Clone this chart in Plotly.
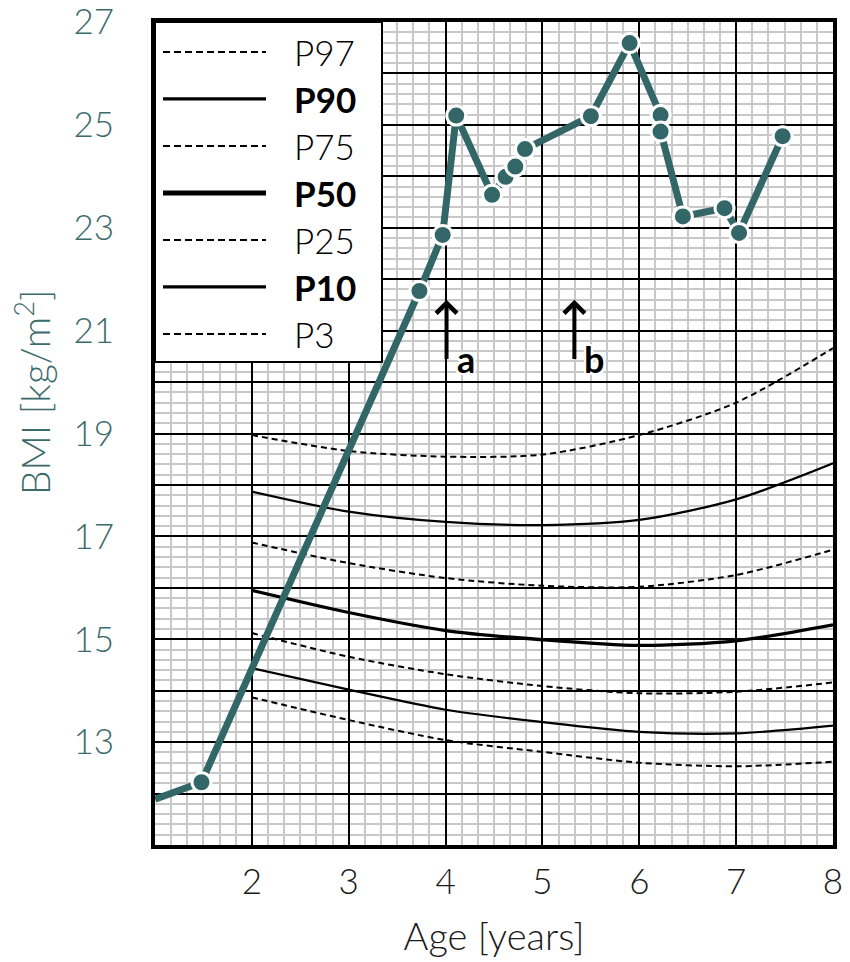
import plotly.graph_objects as go

# ---------------- data ----------------
age_obs = [1.0, 1.48, 3.73, 3.97, 4.11, 4.48, 4.62, 4.72, 4.82, 5.50, 5.90, 6.22, 6.22, 6.45, 6.88, 7.03, 7.48]
bmi_obs = [11.89, 12.22, 21.77, 22.86, 25.18, 23.64, 23.99, 24.19, 24.53, 25.17, 26.59, 25.19, 24.87, 23.22, 23.38, 22.90, 24.78]

pct_age = [2, 3, 4, 5, 6, 7, 8]
p97 = [18.97, 18.66, 18.55, 18.59, 18.97, 19.60, 20.66]
p90 = [17.87, 17.48, 17.28, 17.22, 17.32, 17.72, 18.42]
p75 = [16.88, 16.48, 16.19, 16.04, 16.02, 16.25, 16.74]
p50 = [15.95, 15.52, 15.17, 14.99, 14.88, 14.97, 15.28]
p25 = [15.12, 14.66, 14.32, 14.09, 13.95, 13.98, 14.16]
p10 = [14.44, 14.02, 13.63, 13.39, 13.20, 13.17, 13.32]
p3 = [13.87, 13.43, 13.04, 12.81, 12.60, 12.53, 12.62]

pct_names = ["P97", "P90", "P75", "P50", "P25", "P10", "P3"]
pct_values = [p97, p90, p75, p50, p25, p10, p3]

x_tick_vals = [1, 2, 3, 4, 5, 6, 7, 8]
x_tick_text = ["", "2", "3", "4", "5", "6", "7", "8"]
y_tick_vals = list(range(11, 28))
y_tick_text = [str(v) if (v % 2 == 1 and v >= 13) else "" for v in y_tick_vals]

event_labels = ["a", "b"]
event_ages = [4.01, 5.33]

# ---------------- styles ----------------
TEAL = "#336666"
FONT = "Lato"
W = 300
styles = {
    "P97": dict(dash="6px,4px", width=2, lw=2, bold=False),
    "P90": dict(dash="solid", width=2.2, lw=3.3, bold=True),
    "P75": dict(dash="6px,4px", width=2, lw=2, bold=False),
    "P50": dict(dash="solid", width=3.3, lw=5, bold=True),
    "P25": dict(dash="6px,4px", width=2, lw=2, bold=False),
    "P10": dict(dash="solid", width=2.2, lw=3.3, bold=True),
    "P3": dict(dash="6px,4px", width=2, lw=2, bold=False),
}

fig = go.Figure()

for name, vals in zip(pct_names, pct_values):
    st = styles[name]
    fig.add_trace(go.Scatter(
        x=pct_age, y=vals, mode="lines", name=name,
        line=dict(color="black", width=st["width"], dash=st["dash"], shape="spline", smoothing=0.8),
        showlegend=False, hoverinfo="skip"))

# observed BMI line
fig.add_trace(go.Scatter(
    x=age_obs, y=bmi_obs, mode="lines",
    line=dict(color=TEAL, width=7), showlegend=False))
fig.add_trace(go.Scatter(
    x=age_obs[1:], y=bmi_obs[1:], mode="markers",
    marker=dict(color=TEAL, size=19, line=dict(color="white", width=3)),
    showlegend=False))

# ---------------- manual legend ----------------
shapes = []
annotations = []
lx0, lx1 = 0.0, 0.3348
ly0, ly1 = 0.5869, 1.0
shapes.append(dict(type="rect", xref="paper", yref="paper", x0=lx0, x1=lx1, y0=ly0, y1=ly1,
                   fillcolor="white", line=dict(color="black", width=2), layer="above"))
row_top = 0.9636
row_step = 0.0571
for i, name in enumerate(pct_names):
    st = styles[name]
    yy = row_top - i * row_step
    shapes.append(dict(type="line", xref="paper", yref="paper", x0=0.0118, x1=0.1637, y0=yy, y1=yy,
                       line=dict(color="black", width=st["lw"], dash=("7px,4px" if st["dash"] != "solid" else "solid")),
                       layer="above"))
    txt = f"<b>{name}</b>" if st["bold"] else name
    annotations.append(dict(xref="paper", yref="paper", x=0.2021, y=yy, text=txt, showarrow=False,
                            xanchor="left", yanchor="middle",
                            font=dict(family=FONT, size=35, color="black", weight=(700 if st["bold"] else W))))

# ---------------- event arrows ----------------
halo = "2px 2px 0 white, -2px -2px 0 white, 2px -2px 0 white, -2px 2px 0 white, 0 2px 0 white, 0 -2px 0 white, 2px 0 0 white, -2px 0 0 white"
for lab, ag in zip(event_labels, event_ages):
    annotations.append(dict(xref="x", yref="y", x=ag, y=21.6, axref="x", ayref="y", ax=ag, ay=20.37,
                            text=" ", showarrow=True, arrowhead=4, arrowsize=1, arrowwidth=4,
                            arrowcolor="black", standoff=0, startstandoff=0,
                            font=dict(size=4)))
    annotations.append(dict(xref="x", yref="y", x=ag + 0.2, y=20.45, text=f"<b>{lab}</b>", showarrow=False,
                            xanchor="center", yanchor="middle",
                            font=dict(family=FONT, size=36, color="black", shadow=halo)))

# y-axis title (placed as in the reference, above the plot centre)
annotations.append(dict(xref="paper", yref="paper", x=-0.1814, y=0.5504, text="BMI [kg/m<sup>2</sup>]",
                        textangle=-90, showarrow=False, xanchor="center", yanchor="middle",
                        font=dict(family=FONT, size=39, color="#3b6b6b", weight=W)))

fig.update_layout(
    width=850, height=962,
    margin=dict(l=155, r=17, t=22, b=117, autoexpand=False),
    paper_bgcolor="white", plot_bgcolor="white",
    font=dict(family=FONT, size=33, weight=W),
    shapes=shapes, annotations=annotations,
    xaxis=dict(
        range=[1, 8], tickmode="array", tickvals=x_tick_vals, ticktext=x_tick_text,
        showgrid=True, gridcolor="black", gridwidth=1.6,
        minor=dict(tickmode="linear", tick0=1, dtick=1/6, showgrid=True, gridcolor="#c8c8c8", gridwidth=1.5, ticks=""),
        showline=True, linecolor="black", linewidth=4, mirror=True, zeroline=False, ticks="",
        automargin=False, ticklabelstandoff=3, ticklabeloverflow="allow",
        tickfont=dict(family=FONT, size=35, color="#1a1a1a", weight=W),
        title=dict(text="Age [years]", font=dict(family=FONT, size=38, color="#1a1a1a", weight=W), standoff=24),
    ),
    yaxis=dict(
        range=[11, 27], tickmode="array", tickvals=y_tick_vals, ticktext=y_tick_text,
        showgrid=True, gridcolor="black", gridwidth=1.6,
        minor=dict(tickmode="linear", tick0=11, dtick=0.2, showgrid=True, gridcolor="#c8c8c8", gridwidth=1.5, ticks=""),
        showline=True, linecolor="black", linewidth=4, mirror=True, zeroline=False, ticks="",
        automargin=False, ticklabelstandoff=30, ticklabeloverflow="allow",
        tickfont=dict(family=FONT, size=35, color="#3b6b6b", weight=W),
    ),
)

fig.write_html("out.html", config={"displayModeBar": False},
               post_script="document.body.style.margin='0';")
